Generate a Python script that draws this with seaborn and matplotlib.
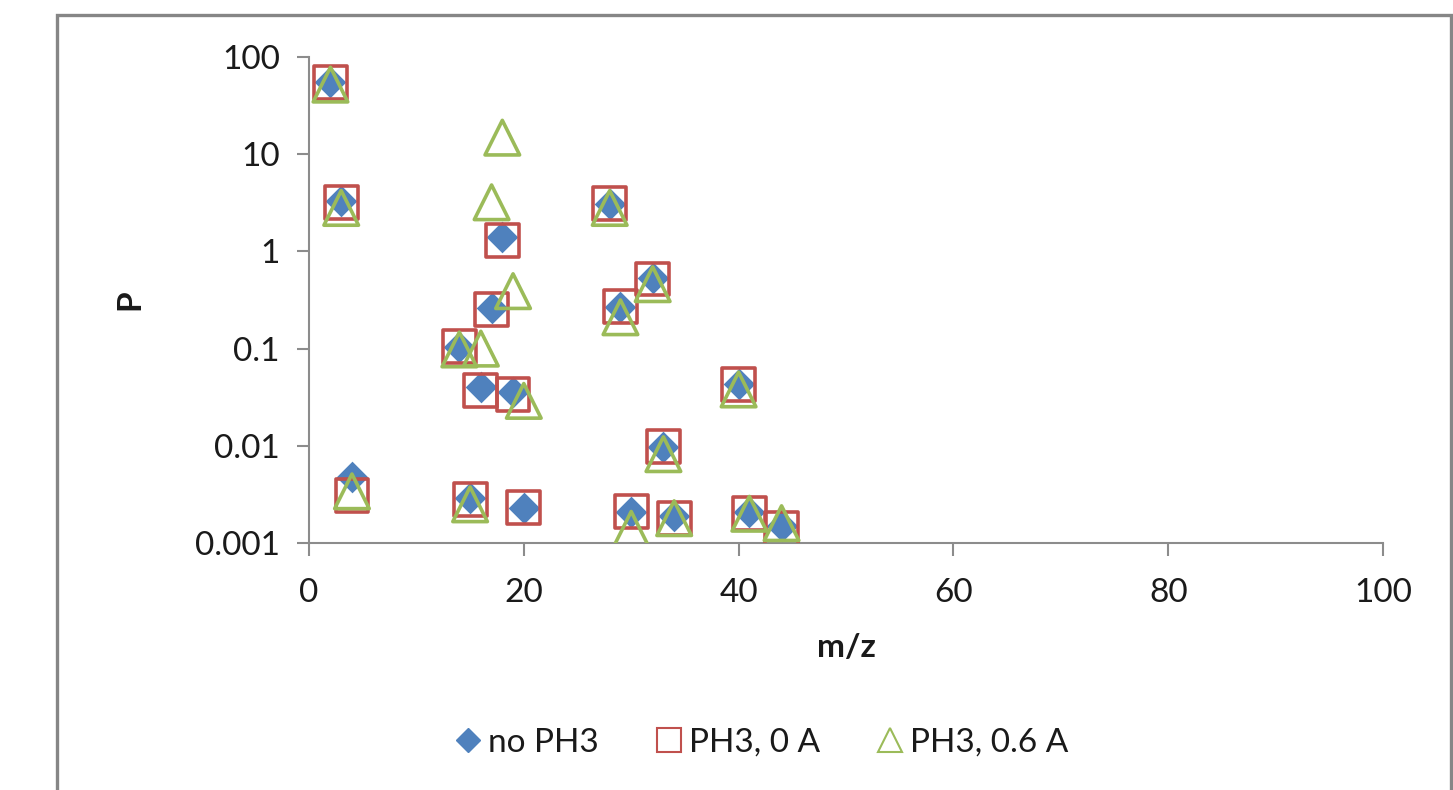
import matplotlib
matplotlib.use("Agg")
import matplotlib.pyplot as plt
from matplotlib.lines import Line2D
from matplotlib.patches import Rectangle
from matplotlib.ticker import FixedLocator, FixedFormatter, NullLocator
import seaborn as sns
import pandas as pd

# m/z channels measured
mz = [2, 3, 4, 14, 15, 16, 17, 18, 19, 20, 28, 29, 30, 32, 33, 34, 40, 41, 44]

# partial pressures for each condition
p_no_ph3 = [55, 3.3, 0.0048, 0.105, 0.0029, 0.040, 0.26, 1.4, 0.036, 0.0023,
            3.1, 0.27, 0.0021, 0.53, 0.0097, 0.0019, 0.043, 0.0021, 0.0015]
p_ph3_0a = [55, 3.2, 0.0031, 0.105, 0.0028, 0.037, 0.25, 1.3, 0.034, 0.0023,
            3.1, 0.27, 0.0021, 0.52, 0.0098, 0.0018, 0.043, 0.0020, 0.0014]
p_ph3_06a = [52, 2.8, 0.0034, 0.098, 0.0025, 0.10, 3.2, 14.8, 0.39, 0.029,
             2.8, 0.21, 0.0014, 0.46, 0.0082, 0.0018, 0.038, 0.0020, 0.0016]

series_names = ["no PH3", "PH3, 0 A", "PH3, 0.6 A"]
y_ticks = [0.001, 0.01, 0.1, 1, 10, 100]
y_tick_labels = ["0.001", "0.01", "0.1", "1", "10", "100"]
x_ticks = [0, 20, 40, 60, 80, 100]

BLUE = "#4F81BD"
RED = "#C0504D"
GREEN = "#9BBB59"
AXIS_GREY = "#8C8C8C"
TEXT = "#1a1a1a"

sns.set_theme(style="white")
plt.rcParams["font.family"] = ["Lato", "DejaVu Sans"]

df = pd.DataFrame({"mz": mz, "no": p_no_ph3, "a0": p_ph3_0a, "a06": p_ph3_06a})

fig = plt.figure(figsize=(14.53, 7.90), dpi=100)
fig.patch.set_facecolor("white")
ax = fig.add_axes([309 / 1453, 1 - 543 / 790, (1383 - 309) / 1453, (543 - 57) / 790])

sns.scatterplot(data=df, x="mz", y="no", ax=ax, marker="D", s=260,
                color=BLUE, edgecolor=BLUE, linewidth=0, zorder=3)
sns.scatterplot(data=df, x="mz", y="a0", ax=ax, marker="s", s=560,
                facecolor="none", edgecolor=RED, linewidth=2.6, zorder=4)
sns.scatterplot(data=df, x="mz", y="a06", ax=ax, marker="^", s=620,
                facecolor="none", edgecolor=GREEN, linewidth=2.6, zorder=5)

ax.set_yscale("log")
ax.set_xlim(0, 100)
ax.set_ylim(0.001, 100)
ax.yaxis.set_major_locator(FixedLocator(y_ticks))
ax.yaxis.set_major_formatter(FixedFormatter(y_tick_labels))
ax.yaxis.set_minor_locator(NullLocator())
ax.set_xticks(x_ticks)
ax.set_xticklabels([str(v) for v in x_ticks])

for side in ["top", "right"]:
    ax.spines[side].set_visible(False)
for side in ["left", "bottom"]:
    ax.spines[side].set_color(AXIS_GREY)
    ax.spines[side].set_linewidth(1.5)
ax.tick_params(axis="both", which="major", direction="out", length=9,
               width=1.5, color=AXIS_GREY, labelsize=24, labelcolor=TEXT,
               left=True, bottom=True)
ax.tick_params(axis="y", pad=12)
ax.tick_params(axis="x", pad=16)
ax.grid(False)

ax.set_xlabel("m/z", fontsize=24, fontweight="bold", color=TEXT, labelpad=18)
ax.set_ylabel("P", fontsize=24, fontweight="bold", color=TEXT, labelpad=36)

handles = [
    Line2D([], [], linestyle="none", marker="D", markersize=12,
           markerfacecolor=BLUE, markeredgecolor=BLUE),
    Line2D([], [], linestyle="none", marker="s", markersize=17,
           markerfacecolor="none", markeredgecolor=RED, markeredgewidth=1.5),
    Line2D([], [], linestyle="none", marker="^", markersize=17,
           markerfacecolor="none", markeredgecolor=GREEN, markeredgewidth=1.5),
]
fig.legend(handles, series_names, loc="center", bbox_to_anchor=(760 / 1453, 1 - 743 / 790),
           ncol=3, frameon=False, fontsize=24, handletextpad=0.1, columnspacing=1.6,
           handlelength=1.0, labelcolor=TEXT)

# chart-area frame
fig.patches.append(Rectangle((57 / 1453, -0.05), (1451 - 57) / 1453, 1 - 15 / 790 + 0.05,
                             transform=fig.transFigure, fill=False,
                             edgecolor="#868686", linewidth=2.4, zorder=0))

fig.savefig("out.png", dpi=100, facecolor="white")
